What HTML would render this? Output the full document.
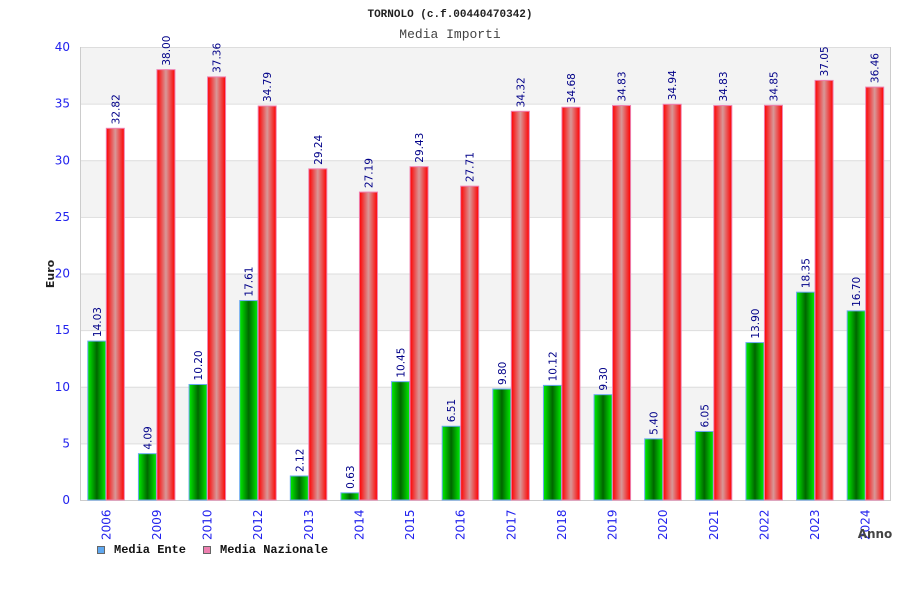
<!DOCTYPE html>
<html><head><meta charset="utf-8"><style>
body{margin:0;background:#fff;width:900px;height:600px;overflow:hidden}
svg{display:block}
</style></head><body>
<svg id="chart" width="900" height="600" font-family="DejaVu Sans, Liberation Sans, sans-serif">
<defs>
<linearGradient id="gG" x1="0" x2="1"><stop offset="0" stop-color="#00ee00"/><stop offset="0.5" stop-color="#006600"/><stop offset="1" stop-color="#00ee00"/></linearGradient>
<linearGradient id="gR" x1="0" x2="1"><stop offset="0" stop-color="#ff0000"/><stop offset="0.5" stop-color="#d89898"/><stop offset="1" stop-color="#ff0000"/></linearGradient>
</defs>
<text x="450" y="17" text-anchor="middle" font-family="Liberation Mono, monospace" font-size="11" font-weight="bold" fill="#222">TORNOLO (c.f.00440470342)</text>
<text x="450" y="38" text-anchor="middle" font-family="Liberation Mono, monospace" font-size="13" fill="#444">Media Importi</text>
<g id="grid"></g><g id="bars"></g><g id="labels"></g>
<text x="0" y="0" transform="translate(54,274) rotate(-90)" text-anchor="middle" font-size="11" font-weight="bold" fill="#222">Euro</text>
<text x="875" y="538" text-anchor="middle" font-size="12" font-weight="bold" fill="#444">Anno</text>
<g><rect x="97.5" y="546.5" width="7" height="7" fill="#5fa8f0" stroke="#666"/><text x="114" y="553" font-family="Liberation Mono, monospace" font-size="12" font-weight="bold" fill="#111">Media Ente</text></g>
<g><rect x="203.5" y="546.5" width="7" height="7" fill="#ee80b0" stroke="#666"/><text x="220" y="553" font-family="Liberation Mono, monospace" font-size="12" font-weight="bold" fill="#111">Media Nazionale</text></g>
</svg>
<script>
const categories=["2006","2009","2010","2012","2013","2014","2015","2016","2017","2018","2019","2020","2021","2022","2023","2024"];
const ente=[14.03,4.09,10.20,17.61,2.12,0.63,10.45,6.51,9.80,10.12,9.30,5.40,6.05,13.90,18.35,16.70];
const nazionale=[32.82,38.00,37.36,34.79,29.24,27.19,29.43,27.71,34.32,34.68,34.83,34.94,34.83,34.85,37.05,36.46];
const yTicks=[0,5,10,15,20,25,30,35,40];
const NS="http://www.w3.org/2000/svg";
const L=80,R=890,T=47,B=500,yMax=40;
const y=v=>B-(v/yMax)*(B-T);
const bw=(R-L)/categories.length;
const xc=i=>L+bw*(i+0.5);
function mk(tag,attrs,parent){const e=document.createElementNS(NS,tag);for(const k in attrs)e.setAttribute(k,attrs[k]);parent.appendChild(e);return e;}
const grid=document.getElementById('grid'),bars=document.getElementById('bars'),labels=document.getElementById('labels');
for(let k=0;k<yTicks.length-1;k++){
  if(k%2===1){const r=mk('rect',{x:L,y:y(yTicks[k+1]),width:R-L,height:y(yTicks[k])-y(yTicks[k+1]),fill:'#f3f3f3'},grid);
  
  }
}
yTicks.forEach(t=>{
  const l=mk('line',{x1:L,x2:R,y1:y(t)+0.5,y2:y(t)+0.5,stroke:'#dddddd'},grid);
  
  
  const tx=mk('text',{x:70,y:y(t)+4,'text-anchor':'end','font-size':12,fill:'#2222ee'},grid);
  tx.textContent=t;
  
  
});
const ax=mk('path',{d:`M${L+0.5},${T} V${B+0.5} H${R+0.5} V${T}`,fill:'none',stroke:'#cccccc'},grid);


categories.forEach((c,i)=>{
  const cx=xc(i);
  const g=mk('rect',{x:cx-17.5,y:y(ente[i]),width:18,height:B-y(ente[i]),fill:'url(#gG)',stroke:'#6aa8f0','stroke-width':1},bars);
  
  
  const r=mk('rect',{x:cx+1,y:y(nazionale[i]),width:18,height:B-y(nazionale[i]),fill:'url(#gR)',stroke:'#ee80b0','stroke-width':1},bars);
  
  
  [[cx-8.5,ente[i]],[cx+10,nazionale[i]]].forEach(([px,v],j)=>{
    const t=mk('text',{transform:`translate(${px+4},${y(v)-4}) rotate(-90)`,'font-size':10.5,fill:'#000088'},labels);
    t.textContent=v.toFixed(2);
    
    
  });
  const xl=mk('text',{transform:`translate(${cx+5},${540}) rotate(-90)`,'font-size':12,fill:'#2222ee'},labels);
  xl.textContent=c;
  
  
});
</script>
</body></html>
